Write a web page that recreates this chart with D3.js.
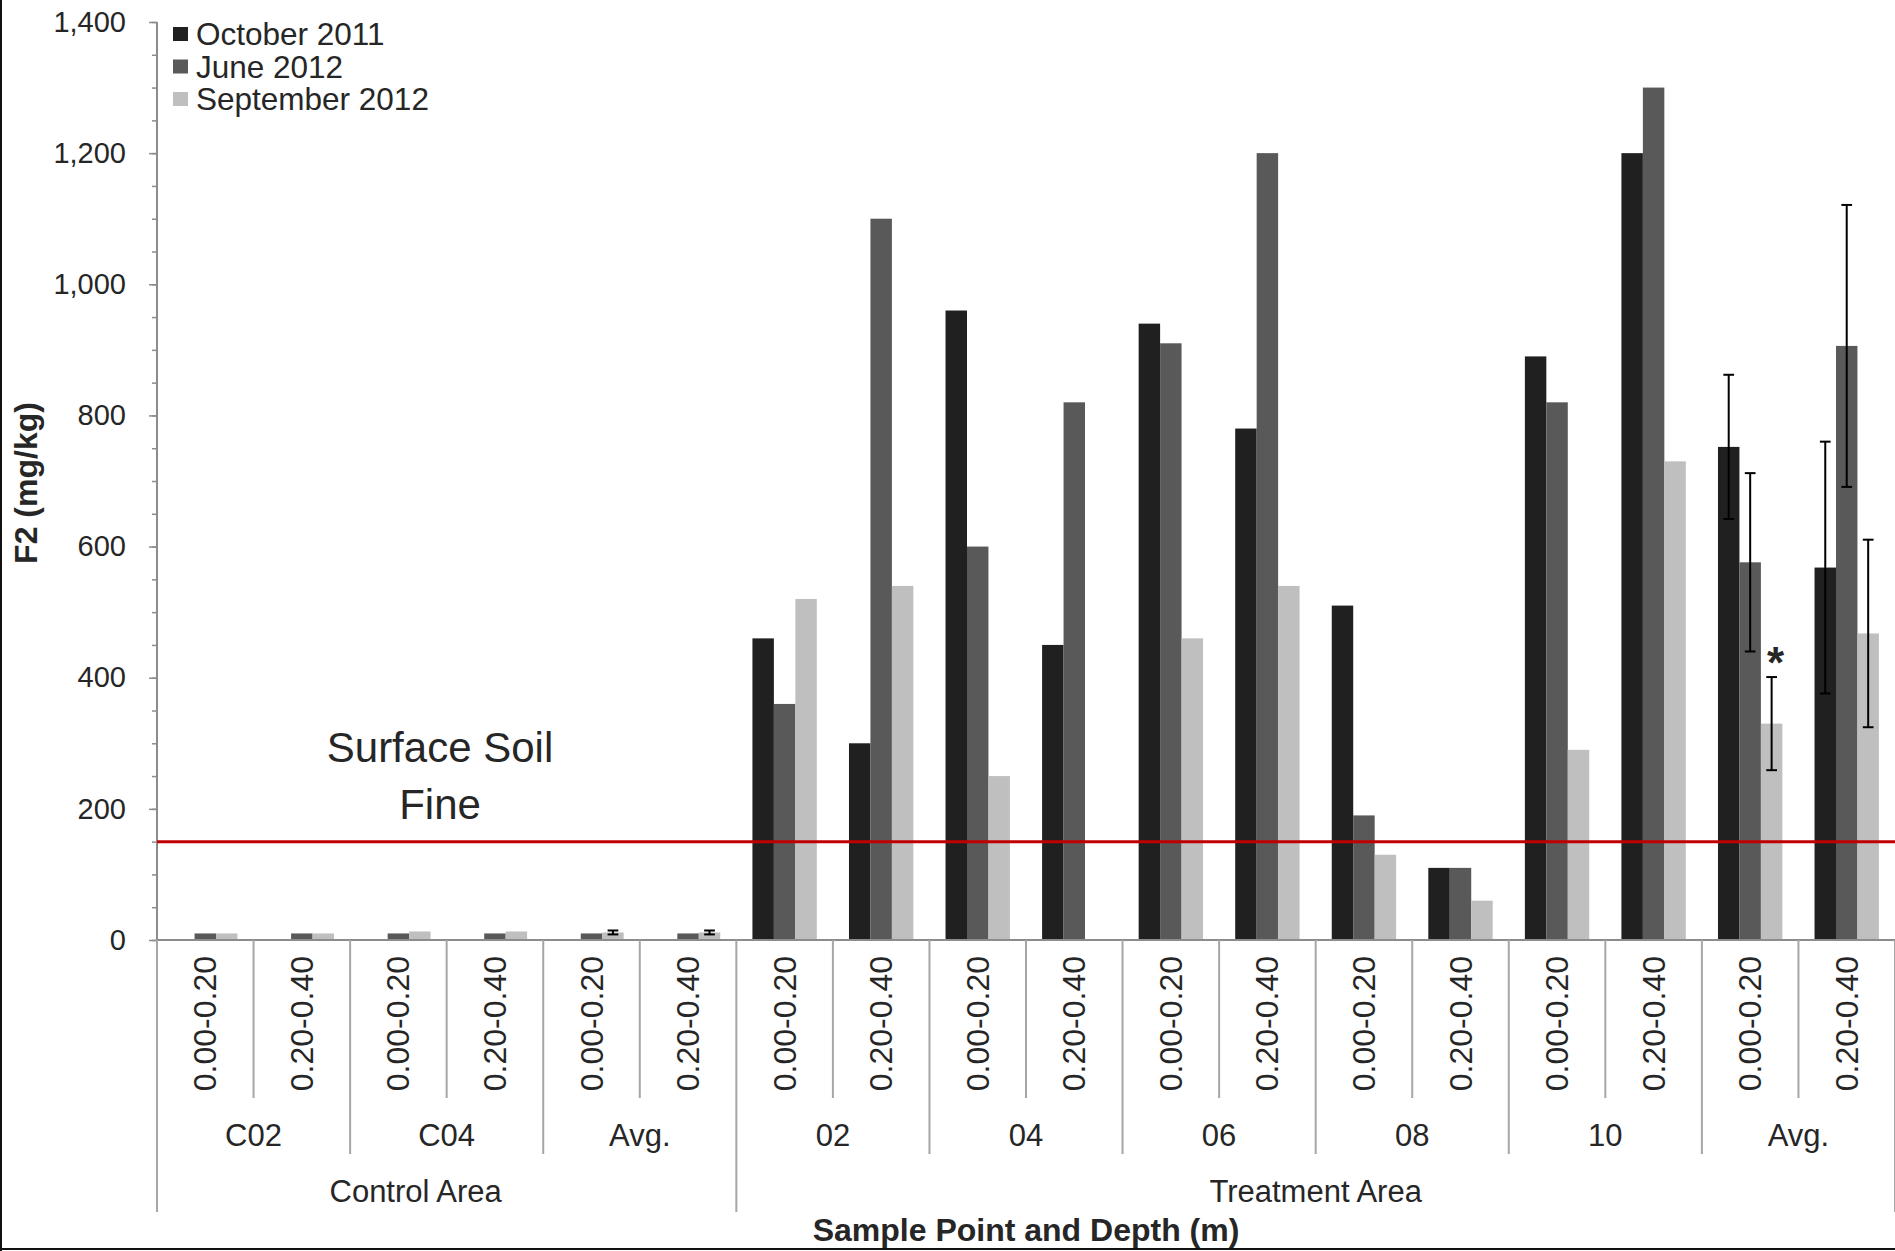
<!DOCTYPE html>
<html>
<head>
<meta charset="utf-8">
<script src="https://cdn.jsdelivr.net/npm/d3@7/dist/d3.min.js"></script>
<style>
  html, body { margin: 0; padding: 0; background: #fff; }
  svg { display: block; }
  text { font-family: "Liberation Sans", Arial, sans-serif; fill: #262626; }
</style>
</head>
<body>
<svg id="chart" width="1895" height="1251"></svg>
<script>
// Sample depths, sample points and areas (multi-level category axis)
const depths = ["0.00-0.20", "0.20-0.40"];
const points = ["C02", "C04", "Avg.", "02", "04", "06", "08", "10", "Avg."];
const areas = ["Control Area", "Treatment Area"];
const areaPointCounts = [3, 6];

// F2 concentration (mg/kg), one value per point/depth; null = not sampled
const seriesNames = ["October 2011", "June 2012", "September 2012"];
const oct2011 = [null, null, null, null, null, null, 460, 300, 960, 450, 940, 780, 510, 110, 890, 1200, 752, 568];
const jun2012 = [10, 10, 10, 10, 10, 10, 360, 1100, 600, 820, 910, 1200, 190, 110, 820, 1300, 576, 906];
const sep2012 = [10, 10, 13, 13, 11.5, 11.5, 520, 540, 250, null, 460, 540, 130, 60, 290, 730, 330, 467.5];

// Standard errors on the averaged columns
const oct2011Err = [null, null, null, null, null, null, null, null, null, null, null, null, null, null, null, null, 110, 192];
const jun2012Err = [null, null, null, null, null, null, null, null, null, null, null, null, null, null, null, null, 136, 215];
const sep2012Err = [null, null, null, null, 3, 3, null, null, null, null, null, null, null, null, null, null, 71, 143];

// Guideline and significance marker
const guidelineValue = 150;
const guidelineLabel = ["Surface Soil", "Fine"];
const starSeries = 2, starIndex = 16;

const yTicks = [0, 200, 400, 600, 800, 1000, 1200, 1400];

const colors = ["#202020", "#595959", "#bfbfbf"];
const values = [oct2011, jun2012, sep2012];
const errors = [oct2011Err, jun2012Err, sep2012Err];

const svg = d3.select("#chart");
const W = 1895, H = 1251;
const plot = { left: 157, right: 1895, top: 22, bottom: 940 };

// Outer frame (left and bottom edges)
svg.append("line").attr("x1", 1).attr("x2", 1).attr("y1", 0).attr("y2", H)
  .attr("stroke", "#111").attr("stroke-width", 2);
svg.append("line").attr("x1", 0).attr("x2", W).attr("y1", H - 2).attr("y2", H - 2)
  .attr("stroke", "#111").attr("stroke-width", 2);

const nCat = points.length * depths.length;
const x = d3.scaleBand().domain(d3.range(nCat)).range([plot.left, plot.right]).padding(0);
const y = d3.scaleLinear().domain([0, 1400]).range([plot.bottom, plot.top]);
const bw = x.bandwidth();
const barW = bw / 4.5;               // 150% gap width
const barX = (i, s) => x(i) + barW * 0.75 + s * barW;

// Y axis: minor ticks every 50, major every 200
const minor = svg.append("g").attr("transform", `translate(${plot.left},0)`)
  .call(d3.axisLeft(y).tickValues(d3.range(0, 1401, 50)).tickSize(5).tickFormat(""));
minor.select(".domain").remove();
minor.selectAll("line").attr("stroke", "#8c8c8c").attr("stroke-width", 1.5);

const yAxis = svg.append("g").attr("transform", `translate(${plot.left},0)`)
  .call(d3.axisLeft(y).tickValues(yTicks).tickSize(8).tickPadding(23).tickFormat(d3.format(",")));
yAxis.select(".domain").attr("stroke", "#8c8c8c").attr("stroke-width", 2).attr("d", `M0,${plot.top}V${plot.bottom}`);
yAxis.selectAll("line").attr("stroke", "#8c8c8c").attr("stroke-width", 1.5);
yAxis.selectAll("text").attr("font-size", 29).attr("fill", "#262626")
  .attr("font-family", "Liberation Sans, Arial, sans-serif");

// Y axis title
svg.append("text")
  .attr("transform", `translate(37,${(plot.top + plot.bottom) / 2 + 2}) rotate(-90)`)
  .attr("text-anchor", "middle").attr("font-size", 32).attr("font-weight", "bold")
  .text("F2 (mg/kg)");

// Bars
const bars = svg.append("g");
values.forEach((vals, s) => {
  bars.selectAll(null)
    .data(vals.map((v, i) => ({ v, i })).filter(d => d.v != null))
    .join("rect")
    .attr("x", d => barX(d.i, s))
    .attr("width", barW)
    .attr("y", d => y(d.v))
    .attr("height", d => y(0) - y(d.v))
    .attr("fill", colors[s]);
});

// Error bars
const eb = svg.append("g").attr("stroke", "#000").attr("stroke-width", 2);
errors.forEach((errs, s) => {
  errs.forEach((e, i) => {
    if (e == null || values[s][i] == null) return;
    const cx = barX(i, s) + barW / 2;
    const v = values[s][i];
    const cap = Math.min(11, barW * 0.5);
    eb.append("line").attr("x1", cx).attr("x2", cx).attr("y1", y(v + e)).attr("y2", y(v - e));
    eb.append("line").attr("x1", cx - cap / 2).attr("x2", cx + cap / 2).attr("y1", y(v + e)).attr("y2", y(v + e));
    eb.append("line").attr("x1", cx - cap / 2).attr("x2", cx + cap / 2).attr("y1", y(v - e)).attr("y2", y(v - e));
  });
});

// Significance marker
{
  const v = values[starSeries][starIndex] + errors[starSeries][starIndex];
  svg.append("text")
    .attr("x", barX(starIndex, starSeries) + barW / 2 + 4)
    .attr("y", y(v) + 1)
    .attr("text-anchor", "middle").attr("font-size", 44).attr("font-weight", "bold")
    .attr("fill", "#000")
    .text("*");
}

// Guideline
svg.append("line")
  .attr("x1", plot.left).attr("x2", plot.right)
  .attr("y1", y(guidelineValue)).attr("y2", y(guidelineValue))
  .attr("stroke", "#c00000").attr("stroke-width", 3);

svg.append("g").selectAll("text").data(guidelineLabel).join("text")
  .attr("x", 440).attr("y", (d, i) => 762 + i * 57)
  .attr("text-anchor", "middle")
  .attr("font-family", "Lato, 'Open Sans', sans-serif")
  .attr("font-size", 42).attr("fill", "#000")
  .text(d => d);

// X axis line
svg.append("line").attr("x1", plot.left).attr("x2", plot.right)
  .attr("y1", plot.bottom).attr("y2", plot.bottom)
  .attr("stroke", "#8c8c8c").attr("stroke-width", 2);

// Category separators: depth / point / area levels
const depthEnd = 1098, pointEnd = 1154, areaEnd = 1212;
const areaBounds = [0];
areaPointCounts.forEach(c => areaBounds.push(areaBounds[areaBounds.length - 1] + c * depths.length));
const seps = svg.append("g").attr("stroke", "#a6a6a6").attr("stroke-width", 2);
for (let i = 0; i <= nCat; i++) {
  const xx = i < nCat ? x(i) : plot.right;
  let end = depthEnd;
  if (i % depths.length === 0) end = pointEnd;
  if (areaBounds.includes(i)) end = areaEnd;
  seps.append("line").attr("x1", xx).attr("x2", xx).attr("y1", plot.bottom).attr("y2", end);
}

// Depth labels (rotated)
svg.append("g").selectAll("text").data(d3.range(nCat)).join("text")
  .attr("transform", i => `translate(${x(i) + bw / 2 + 11},956) rotate(-90)`)
  .attr("text-anchor", "end").attr("font-size", 32)
  .text(i => depths[i % depths.length]);

// Sample point labels
svg.append("g").selectAll("text").data(points).join("text")
  .attr("x", (p, j) => x(j * depths.length) + bw * depths.length / 2)
  .attr("y", 1146).attr("text-anchor", "middle").attr("font-size", 31)
  .text(p => p);

// Area labels
const areaShift = [-31, 0];
svg.append("g").selectAll("text").data(areas).join("text")
  .attr("x", (a, k) => {
    const x0 = x(areaBounds[k]);
    const x1 = areaBounds[k + 1] < nCat ? x(areaBounds[k + 1]) : plot.right;
    return (x0 + x1) / 2 + areaShift[k];
  })
  .attr("y", 1202).attr("text-anchor", "middle").attr("font-size", 31)
  .text(a => a);

// X axis title
svg.append("text").attr("x", (plot.left + plot.right) / 2).attr("y", 1241)
  .attr("text-anchor", "middle").attr("font-size", 32).attr("font-weight", "bold")
  .text("Sample Point and Depth (m)");

// Legend
const legend = svg.append("g").attr("transform", "translate(173,0)");
seriesNames.forEach((name, s) => {
  const cy = 34 + s * 32.5;
  legend.append("rect").attr("x", 0).attr("y", cy - 7).attr("width", 15).attr("height", 14).attr("fill", colors[s]);
  legend.append("text").attr("x", 23).attr("y", cy + 11).attr("font-size", 31.5).text(name);
});
</script>
</body>
</html>
